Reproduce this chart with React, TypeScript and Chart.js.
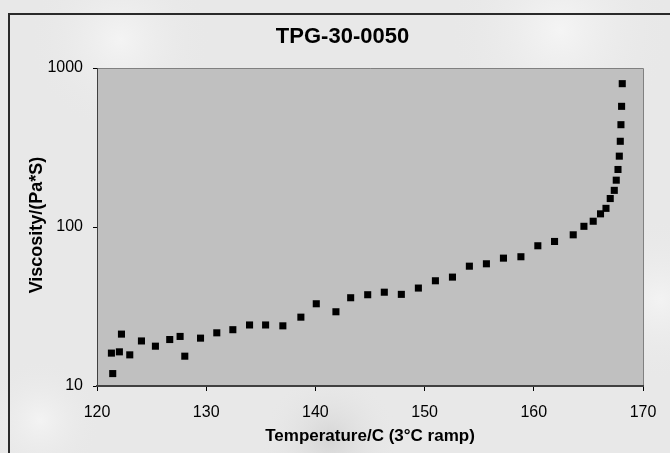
import React, { useEffect, useRef } from "react";
import { Chart, registerables } from "chart.js";

Chart.register(...registerables);

const chartTitle = "TPG-30-0050";
const xAxisTitle = "Temperature/C (3°C ramp)";
const yAxisTitle = "Viscosity/(Pa*S)";

const xTickValues = [120, 130, 140, 150, 160, 170];
const yTickValues = [10, 100, 1000];

const temperature = [
  121.44, 121.32, 122.05, 122.24, 123.0, 124.07, 125.35, 126.66, 127.61, 128.04,
  129.48, 130.97, 132.44, 133.97, 135.44, 137.02, 138.67, 140.08, 141.88, 143.23,
  144.79, 146.31, 147.87, 149.43, 150.99, 152.55, 154.1, 155.66, 157.22, 158.82,
  160.37, 161.9, 163.61, 164.59, 165.44, 166.11, 166.61, 167.0, 167.37, 167.55,
  167.71, 167.83, 167.92, 167.98, 168.04, 168.1,
];

const viscosity = [
  11.97, 16.1, 16.4, 21.2, 15.7, 19.2, 17.8, 19.6, 20.5, 15.4,
  20.0, 21.6, 22.6, 24.2, 24.2, 23.9, 27.1, 32.9, 29.3, 35.9,
  37.5, 38.9, 37.7, 41.3, 45.9, 48.4, 56.7, 58.7, 63.7, 65.0,
  76.2, 81.1, 89.3, 101, 108.7, 121, 131, 151, 170, 197,
  230, 279, 346, 440, 574, 797,
];

const FONT = "'Liberation Sans', Arial, Helvetica, sans-serif";

export default function App() {
  const ref = useRef<HTMLCanvasElement | null>(null);

  useEffect(() => {
    if (!ref.current) return;
    const blob = (ctx: any, x: number, y: number, r: number, c: string) => {
      const g = ctx.createRadialGradient(x, y, 0, x, y, r);
      g.addColorStop(0, c);
      g.addColorStop(1, "rgba(233,233,233,0)");
      ctx.fillStyle = g;
      ctx.fillRect(x - r, y - r, 2 * r, 2 * r);
    };
    const decor = {
      id: "decor",
      beforeDraw(chart: any) {
        const { ctx, chartArea: a, width, height } = chart;
        ctx.save();
        ctx.fillStyle = "#e8e8e8";
        ctx.fillRect(0, 0, width, height);
        blob(ctx, 120, 40, 90, "rgba(245,245,245,0.9)");
        blob(ctx, 560, 30, 110, "rgba(246,246,246,0.9)");
        blob(ctx, 660, 300, 80, "rgba(244,244,244,0.9)");
        blob(ctx, 330, 440, 70, "rgba(205,205,205,0.7)");
        blob(ctx, 40, 420, 60, "rgba(246,246,246,0.8)");
        // frame
        ctx.strokeStyle = "#2a2a2a";
        ctx.lineWidth = 2;
        ctx.strokeRect(9, 14, width + 50, height + 50);
        // plot area
        ctx.fillStyle = "#c0c0c0";
        ctx.fillRect(a.left, a.top, a.right - a.left, a.bottom - a.top);
        ctx.strokeStyle = "#808080";
        ctx.lineWidth = 1;
        ctx.beginPath();
        ctx.moveTo(a.left, a.top + 0.5);
        ctx.lineTo(a.right + 0.5, a.top + 0.5);
        ctx.lineTo(a.right + 0.5, a.bottom);
        ctx.stroke();
        ctx.restore();
      },
      afterDraw(chart: any) {
        const { ctx, chartArea: a } = chart;
        ctx.save();
        ctx.fillStyle = "#000";
        ctx.textAlign = "center";
        ctx.textBaseline = "middle";
        ctx.font = `bold 22px ${FONT}`;
        ctx.fillText(chartTitle, 342.5, 37);
        ctx.font = `bold 17px ${FONT}`;
        ctx.fillText(xAxisTitle, (a.left + a.right) / 2, 436);
        ctx.font = `bold 18px ${FONT}`;
        ctx.translate(37, 225);
        ctx.rotate(-Math.PI / 2);
        ctx.fillText(yAxisTitle, 0, 0);
        ctx.restore();
      },
    };

    const chart = new Chart(ref.current, {
      type: "scatter",
      data: {
        datasets: [
          {
            data: temperature.map((t, i) => ({ x: t, y: viscosity[i] })),
            pointStyle: "rect",
            pointRadius: 5,
            pointBorderWidth: 0,
            backgroundColor: "#000",
            borderColor: "#000",
          },
        ],
      },
      options: {
        responsive: false,
        animation: false,
        devicePixelRatio: 1,
        layout: { padding: { left: 0, right: 27, top: 68, bottom: 0 } },
        plugins: { legend: { display: false }, tooltip: { enabled: false } },
        scales: {
          x: {
            type: "linear",
            min: 120,
            max: 170,
            afterBuildTicks: (s: any) => {
              s.ticks = xTickValues.map((v) => ({ value: v }));
            },
            afterFit: (s: any) => {
              s.height = 67;
            },
            grid: {
              drawOnChartArea: false,
              drawTicks: true,
              tickLength: 5,
              tickColor: "#000",
              tickWidth: 1,
            },
            border: { display: true, color: "#404040", width: 2 },
            ticks: {
              color: "#000",
              font: { family: FONT, size: 16 },
              padding: 12,
              maxRotation: 0,
            },
          },
          y: {
            type: "logarithmic",
            min: 10,
            max: 1000,
            afterBuildTicks: (s: any) => {
              s.ticks = yTickValues.map((v) => ({ value: v }));
            },
            afterFit: (s: any) => {
              s.width = 97;
            },
            grid: {
              drawOnChartArea: false,
              drawTicks: true,
              tickLength: 4,
              tickColor: "#000",
              tickWidth: 1,
            },
            border: { display: true, color: "#404040", width: 1 },
            ticks: {
              color: "#000",
              font: { family: FONT, size: 16 },
              padding: 10,
              callback: (v: any) => String(v),
            },
          },
        },
      },
      plugins: [decor],
    });
    return () => chart.destroy();
  }, []);

  return (
    <div style={{ position: "fixed", left: 0, top: 0, width: 670, height: 453 }}>
      <canvas ref={ref} width={670} height={453} style={{ display: "block" }} />
    </div>
  );
}
